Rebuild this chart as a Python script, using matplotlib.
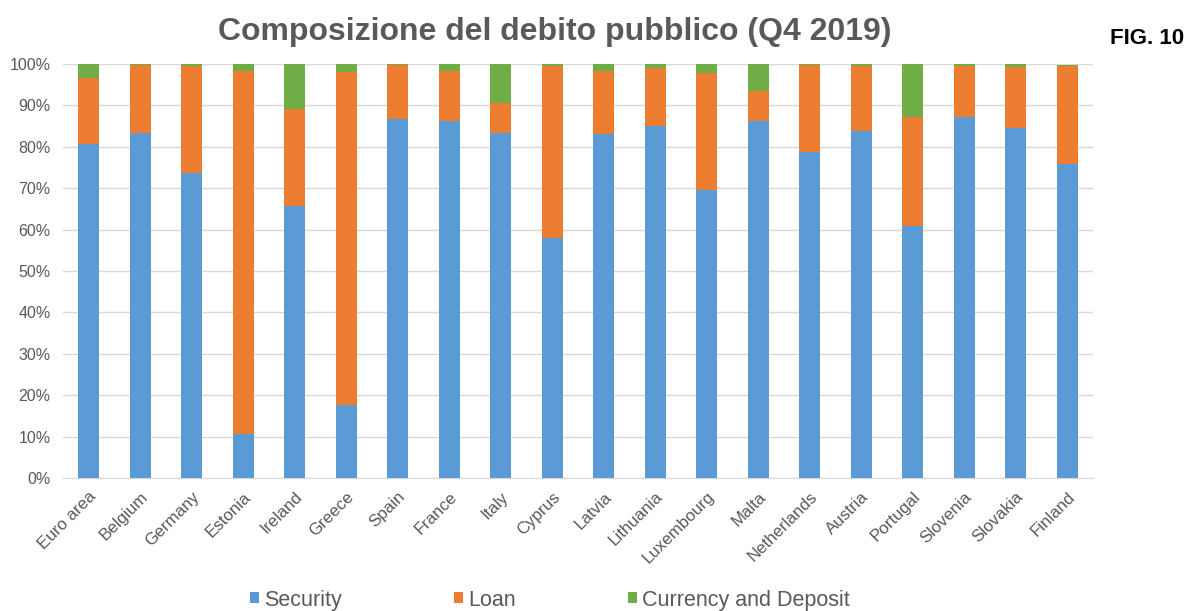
import numpy as np
import matplotlib
matplotlib.use('Agg')
import matplotlib.pyplot as plt
from matplotlib.ticker import PercentFormatter

''' 数据 '''
countries = ['Euro area', 'Belgium', 'Germany', 'Estonia', 'Ireland', 'Greece', 'Spain',
             'France', 'Italy', 'Cyprus', 'Latvia', 'Lithuania', 'Luxembourg', 'Malta',
             'Netherlands', 'Austria', 'Portugal', 'Slovenia', 'Slovakia', 'Finland']
security = [80.7, 83.3, 73.6, 10.7, 65.6, 17.7, 86.7, 86.3, 83.3, 58.0,
            83.2, 85.0, 69.6, 86.3, 78.8, 83.8, 60.9, 87.3, 84.6, 75.9]
loan = [15.8, 16.5, 25.8, 87.7, 23.5, 80.4, 13.0, 11.9, 7.3, 41.4,
        15.0, 14.0, 28.2, 7.1, 20.9, 15.6, 26.4, 12.1, 14.6, 23.5]
currency = [3.5, 0.2, 0.6, 1.6, 10.9, 1.9, 0.3, 1.8, 9.4, 0.6,
            1.8, 1.0, 2.2, 6.6, 0.3, 0.6, 12.7, 0.6, 0.8, 0.4]
series_names = ['Security', 'Loan', 'Currency and Deposit']
colors = ['#5b9bd5', '#ed7d31', '#70ad47']

fig = plt.figure(figsize=(11.88, 6.11), dpi=100)
ax = fig.add_axes([63 / 1188, 1 - 478 / 611, 1030 / 1188, 414 / 611])

x = np.arange(len(countries))
sec = np.array(security)
lo = np.array(loan)
cur = np.array(currency)
w = 0.40
ax.bar(x, sec, w, color=colors[0], label=series_names[0], zorder=3)
ax.bar(x, lo, w, bottom=sec, color=colors[1], label=series_names[1], zorder=3)
ax.bar(x, cur, w, bottom=sec + lo, color=colors[2], label=series_names[2], zorder=3)

ax.set_xlim(-0.5, len(countries) - 0.5)
ax.set_ylim(0, 100)
ax.set_yticks(np.arange(0, 101, 10))
ax.yaxis.set_major_formatter(PercentFormatter(decimals=0))
ax.grid(axis='y', color='#d9d9d9', linewidth=1, zorder=0)
for s in ['top', 'right', 'left']:
    ax.spines[s].set_visible(False)
ax.spines['bottom'].set_color('#d9d9d9')
ax.tick_params(length=0, colors='#595959', labelsize=11.5)
ax.tick_params(axis='x', labelsize=12.2, pad=8)
ax.tick_params(axis='y', pad=9)
ax.set_xticks(x)
ax.set_xticklabels(countries, rotation=45, ha='right', rotation_mode='anchor')
for lab in ax.get_xticklabels() + ax.get_yticklabels():
    lab.set_family('Liberation Sans')

fig.text(0.467, 0.947, 'Composizione del debito pubblico (Q4 2019)', ha='center', va='center',
         fontsize=23, fontweight='bold', color='#595959', family='Liberation Sans')
fig.text(0.997, 0.937, 'FIG. 10', ha='right', va='center', fontsize=16,
         fontweight='bold', color='black', family='Liberation Sans')

leg = fig.legend(loc='center', bbox_to_anchor=(0.463, 0.018), ncol=3, frameon=False,
                 handlelength=0.42, handleheight=0.42, handletextpad=0.25,
                 columnspacing=5.2, prop={'family': 'Liberation Sans', 'size': 15.5})
for t in leg.get_texts():
    t.set_color('#595959')

fig.savefig('out.png', dpi=100)
